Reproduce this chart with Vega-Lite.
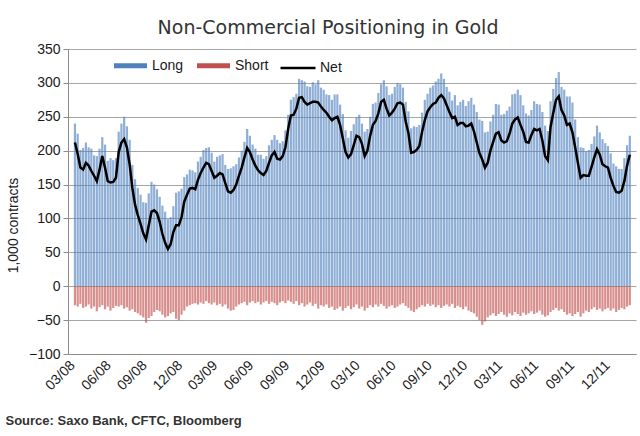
{
  "$schema": "https://vega.github.io/schema/vega-lite/v6.json",
  "width": 568,
  "height": 305,
  "autosize": {"type": "none"},
  "padding": {"left": 68, "top": 49, "right": 4, "bottom": 82},
  "background": "white",
  "title": {
    "text": "Non-Commercial Positioning in Gold",
    "font": "DejaVu Sans",
    "fontSize": 19,
    "fontWeight": "normal",
    "color": "#333333",
    "anchor": "middle",
    "baseline": "alphabetic",
    "offset": 16,
    "dx": -24,
    "dy": 27
  },
  "data": {
    "values": [
      {"date": "2008-02-26", "Long": 240, "Short": -28, "Net": 212},
      {"date": "2008-03-04", "Long": 225, "Short": -30, "Net": 195},
      {"date": "2008-03-11", "Long": 201, "Short": -26, "Net": 175},
      {"date": "2008-03-18", "Long": 204, "Short": -32, "Net": 172},
      {"date": "2008-03-25", "Long": 212, "Short": -30, "Net": 182},
      {"date": "2008-04-01", "Long": 205, "Short": -27, "Net": 178},
      {"date": "2008-04-08", "Long": 203, "Short": -33, "Net": 170},
      {"date": "2008-04-15", "Long": 193, "Short": -30, "Net": 163},
      {"date": "2008-04-22", "Long": 192, "Short": -37, "Net": 155},
      {"date": "2008-04-29", "Long": 203, "Short": -31, "Net": 172},
      {"date": "2008-05-06", "Long": 220, "Short": -28, "Net": 192},
      {"date": "2008-05-13", "Long": 209, "Short": -34, "Net": 175},
      {"date": "2008-05-20", "Long": 185, "Short": -30, "Net": 155},
      {"date": "2008-05-27", "Long": 189, "Short": -36, "Net": 153},
      {"date": "2008-06-03", "Long": 186, "Short": -32, "Net": 154},
      {"date": "2008-06-10", "Long": 189, "Short": -29, "Net": 160},
      {"date": "2008-06-17", "Long": 228, "Short": -30, "Net": 198},
      {"date": "2008-06-24", "Long": 240, "Short": -28, "Net": 212},
      {"date": "2008-07-01", "Long": 250, "Short": -33, "Net": 217},
      {"date": "2008-07-08", "Long": 236, "Short": -31, "Net": 205},
      {"date": "2008-07-15", "Long": 216, "Short": -36, "Net": 180},
      {"date": "2008-07-22", "Long": 179, "Short": -34, "Net": 145},
      {"date": "2008-07-29", "Long": 158, "Short": -38, "Net": 120},
      {"date": "2008-08-05", "Long": 145, "Short": -40, "Net": 105},
      {"date": "2008-08-12", "Long": 135, "Short": -43, "Net": 92},
      {"date": "2008-08-19", "Long": 124, "Short": -46, "Net": 78},
      {"date": "2008-08-26", "Long": 123, "Short": -54, "Net": 69},
      {"date": "2008-09-02", "Long": 137, "Short": -47, "Net": 90},
      {"date": "2008-09-09", "Long": 154, "Short": -44, "Net": 110},
      {"date": "2008-09-16", "Long": 150, "Short": -38, "Net": 112},
      {"date": "2008-09-23", "Long": 143, "Short": -35, "Net": 108},
      {"date": "2008-09-30", "Long": 132, "Short": -37, "Net": 95},
      {"date": "2008-10-07", "Long": 119, "Short": -42, "Net": 77},
      {"date": "2008-10-14", "Long": 110, "Short": -46, "Net": 64},
      {"date": "2008-10-21", "Long": 99, "Short": -44, "Net": 55},
      {"date": "2008-10-28", "Long": 102, "Short": -40, "Net": 62},
      {"date": "2008-11-04", "Long": 118, "Short": -38, "Net": 80},
      {"date": "2008-11-11", "Long": 138, "Short": -48, "Net": 90},
      {"date": "2008-11-18", "Long": 140, "Short": -50, "Net": 90},
      {"date": "2008-11-25", "Long": 144, "Short": -42, "Net": 102},
      {"date": "2008-12-02", "Long": 161, "Short": -36, "Net": 125},
      {"date": "2008-12-09", "Long": 165, "Short": -30, "Net": 135},
      {"date": "2008-12-16", "Long": 172, "Short": -28, "Net": 144},
      {"date": "2008-12-23", "Long": 171, "Short": -26, "Net": 145},
      {"date": "2008-12-30", "Long": 168, "Short": -25, "Net": 143},
      {"date": "2009-01-06", "Long": 184, "Short": -27, "Net": 157},
      {"date": "2009-01-13", "Long": 191, "Short": -24, "Net": 167},
      {"date": "2009-01-20", "Long": 201, "Short": -26, "Net": 175},
      {"date": "2009-01-27", "Long": 204, "Short": -22, "Net": 182},
      {"date": "2009-02-03", "Long": 205, "Short": -25, "Net": 180},
      {"date": "2009-02-10", "Long": 197, "Short": -27, "Net": 170},
      {"date": "2009-02-17", "Long": 184, "Short": -24, "Net": 160},
      {"date": "2009-02-24", "Long": 191, "Short": -28, "Net": 163},
      {"date": "2009-03-03", "Long": 193, "Short": -26, "Net": 167},
      {"date": "2009-03-10", "Long": 195, "Short": -30, "Net": 165},
      {"date": "2009-03-17", "Long": 179, "Short": -27, "Net": 152},
      {"date": "2009-03-24", "Long": 173, "Short": -33, "Net": 140},
      {"date": "2009-03-31", "Long": 174, "Short": -36, "Net": 138},
      {"date": "2009-04-07", "Long": 177, "Short": -35, "Net": 142},
      {"date": "2009-04-14", "Long": 180, "Short": -30, "Net": 150},
      {"date": "2009-04-21", "Long": 190, "Short": -27, "Net": 163},
      {"date": "2009-04-28", "Long": 200, "Short": -25, "Net": 175},
      {"date": "2009-05-05", "Long": 213, "Short": -23, "Net": 190},
      {"date": "2009-05-12", "Long": 232, "Short": -28, "Net": 204},
      {"date": "2009-05-19", "Long": 222, "Short": -24, "Net": 198},
      {"date": "2009-05-26", "Long": 209, "Short": -22, "Net": 187},
      {"date": "2009-06-02", "Long": 203, "Short": -25, "Net": 178},
      {"date": "2009-06-09", "Long": 194, "Short": -23, "Net": 171},
      {"date": "2009-06-16", "Long": 194, "Short": -27, "Net": 167},
      {"date": "2009-06-23", "Long": 188, "Short": -24, "Net": 164},
      {"date": "2009-06-30", "Long": 192, "Short": -22, "Net": 170},
      {"date": "2009-07-07", "Long": 208, "Short": -26, "Net": 182},
      {"date": "2009-07-14", "Long": 216, "Short": -23, "Net": 193},
      {"date": "2009-07-21", "Long": 223, "Short": -25, "Net": 198},
      {"date": "2009-07-28", "Long": 216, "Short": -28, "Net": 188},
      {"date": "2009-08-04", "Long": 211, "Short": -24, "Net": 187},
      {"date": "2009-08-11", "Long": 214, "Short": -22, "Net": 192},
      {"date": "2009-08-18", "Long": 230, "Short": -25, "Net": 205},
      {"date": "2009-08-25", "Long": 253, "Short": -21, "Net": 232},
      {"date": "2009-09-01", "Long": 275, "Short": -23, "Net": 252},
      {"date": "2009-09-08", "Long": 279, "Short": -26, "Net": 253},
      {"date": "2009-09-15", "Long": 284, "Short": -22, "Net": 262},
      {"date": "2009-09-22", "Long": 306, "Short": -28, "Net": 278},
      {"date": "2009-09-29", "Long": 304, "Short": -25, "Net": 279},
      {"date": "2009-10-06", "Long": 302, "Short": -30, "Net": 272},
      {"date": "2009-10-13", "Long": 295, "Short": -27, "Net": 268},
      {"date": "2009-10-20", "Long": 294, "Short": -24, "Net": 270},
      {"date": "2009-10-27", "Long": 301, "Short": -29, "Net": 272},
      {"date": "2009-11-03", "Long": 298, "Short": -26, "Net": 272},
      {"date": "2009-11-10", "Long": 304, "Short": -33, "Net": 271},
      {"date": "2009-11-17", "Long": 293, "Short": -28, "Net": 265},
      {"date": "2009-11-24", "Long": 290, "Short": -30, "Net": 260},
      {"date": "2009-12-01", "Long": 283, "Short": -27, "Net": 256},
      {"date": "2009-12-08", "Long": 282, "Short": -32, "Net": 250},
      {"date": "2009-12-15", "Long": 275, "Short": -30, "Net": 245},
      {"date": "2009-12-22", "Long": 283, "Short": -35, "Net": 248},
      {"date": "2009-12-29", "Long": 283, "Short": -33, "Net": 250},
      {"date": "2010-01-05", "Long": 268, "Short": -30, "Net": 238},
      {"date": "2010-01-12", "Long": 254, "Short": -36, "Net": 218},
      {"date": "2010-01-19", "Long": 230, "Short": -32, "Net": 198},
      {"date": "2010-01-26", "Long": 219, "Short": -29, "Net": 190},
      {"date": "2010-02-02", "Long": 229, "Short": -34, "Net": 195},
      {"date": "2010-02-09", "Long": 239, "Short": -31, "Net": 208},
      {"date": "2010-02-16", "Long": 249, "Short": -27, "Net": 222},
      {"date": "2010-02-23", "Long": 253, "Short": -33, "Net": 220},
      {"date": "2010-03-02", "Long": 240, "Short": -30, "Net": 210},
      {"date": "2010-03-09", "Long": 228, "Short": -36, "Net": 192},
      {"date": "2010-03-16", "Long": 232, "Short": -32, "Net": 200},
      {"date": "2010-03-23", "Long": 250, "Short": -28, "Net": 222},
      {"date": "2010-03-30", "Long": 269, "Short": -31, "Net": 238},
      {"date": "2010-04-06", "Long": 271, "Short": -27, "Net": 244},
      {"date": "2010-04-13", "Long": 285, "Short": -30, "Net": 255},
      {"date": "2010-04-20", "Long": 298, "Short": -26, "Net": 272},
      {"date": "2010-04-27", "Long": 304, "Short": -29, "Net": 275},
      {"date": "2010-05-04", "Long": 295, "Short": -33, "Net": 262},
      {"date": "2010-05-11", "Long": 282, "Short": -30, "Net": 252},
      {"date": "2010-05-18", "Long": 284, "Short": -28, "Net": 256},
      {"date": "2010-05-25", "Long": 294, "Short": -32, "Net": 262},
      {"date": "2010-06-01", "Long": 300, "Short": -30, "Net": 270},
      {"date": "2010-06-08", "Long": 298, "Short": -27, "Net": 271},
      {"date": "2010-06-15", "Long": 293, "Short": -25, "Net": 268},
      {"date": "2010-06-22", "Long": 272, "Short": -29, "Net": 243},
      {"date": "2010-06-29", "Long": 258, "Short": -32, "Net": 226},
      {"date": "2010-07-06", "Long": 233, "Short": -36, "Net": 197},
      {"date": "2010-07-13", "Long": 236, "Short": -38, "Net": 198},
      {"date": "2010-07-20", "Long": 235, "Short": -34, "Net": 201},
      {"date": "2010-07-27", "Long": 238, "Short": -31, "Net": 207},
      {"date": "2010-08-03", "Long": 256, "Short": -28, "Net": 228},
      {"date": "2010-08-10", "Long": 275, "Short": -30, "Net": 245},
      {"date": "2010-08-17", "Long": 284, "Short": -26, "Net": 258},
      {"date": "2010-08-24", "Long": 293, "Short": -29, "Net": 264},
      {"date": "2010-08-31", "Long": 296, "Short": -27, "Net": 269},
      {"date": "2010-09-07", "Long": 302, "Short": -31, "Net": 271},
      {"date": "2010-09-14", "Long": 306, "Short": -28, "Net": 278},
      {"date": "2010-09-21", "Long": 314, "Short": -32, "Net": 282},
      {"date": "2010-09-28", "Long": 306, "Short": -29, "Net": 277},
      {"date": "2010-10-05", "Long": 294, "Short": -27, "Net": 267},
      {"date": "2010-10-12", "Long": 287, "Short": -30, "Net": 257},
      {"date": "2010-10-19", "Long": 274, "Short": -26, "Net": 248},
      {"date": "2010-10-26", "Long": 282, "Short": -32, "Net": 250},
      {"date": "2010-11-02", "Long": 267, "Short": -29, "Net": 238},
      {"date": "2010-11-09", "Long": 272, "Short": -31, "Net": 241},
      {"date": "2010-11-16", "Long": 275, "Short": -34, "Net": 241},
      {"date": "2010-11-23", "Long": 266, "Short": -30, "Net": 236},
      {"date": "2010-11-30", "Long": 273, "Short": -36, "Net": 237},
      {"date": "2010-12-07", "Long": 278, "Short": -38, "Net": 240},
      {"date": "2010-12-14", "Long": 268, "Short": -40, "Net": 228},
      {"date": "2010-12-21", "Long": 257, "Short": -45, "Net": 212},
      {"date": "2010-12-28", "Long": 246, "Short": -50, "Net": 196},
      {"date": "2011-01-04", "Long": 244, "Short": -57, "Net": 187},
      {"date": "2011-01-11", "Long": 227, "Short": -52, "Net": 175},
      {"date": "2011-01-18", "Long": 228, "Short": -46, "Net": 182},
      {"date": "2011-01-25", "Long": 243, "Short": -43, "Net": 200},
      {"date": "2011-02-01", "Long": 253, "Short": -40, "Net": 213},
      {"date": "2011-02-08", "Long": 269, "Short": -44, "Net": 225},
      {"date": "2011-02-15", "Long": 268, "Short": -41, "Net": 227},
      {"date": "2011-02-22", "Long": 253, "Short": -38, "Net": 215},
      {"date": "2011-03-01", "Long": 254, "Short": -42, "Net": 212},
      {"date": "2011-03-08", "Long": 259, "Short": -45, "Net": 214},
      {"date": "2011-03-15", "Long": 265, "Short": -40, "Net": 225},
      {"date": "2011-03-22", "Long": 283, "Short": -43, "Net": 240},
      {"date": "2011-03-29", "Long": 284, "Short": -38, "Net": 246},
      {"date": "2011-04-05", "Long": 290, "Short": -41, "Net": 249},
      {"date": "2011-04-12", "Long": 282, "Short": -44, "Net": 238},
      {"date": "2011-04-19", "Long": 267, "Short": -39, "Net": 228},
      {"date": "2011-04-26", "Long": 255, "Short": -42, "Net": 213},
      {"date": "2011-05-03", "Long": 252, "Short": -40, "Net": 212},
      {"date": "2011-05-10", "Long": 260, "Short": -37, "Net": 223},
      {"date": "2011-05-17", "Long": 273, "Short": -41, "Net": 232},
      {"date": "2011-05-24", "Long": 269, "Short": -39, "Net": 230},
      {"date": "2011-05-31", "Long": 268, "Short": -36, "Net": 232},
      {"date": "2011-06-07", "Long": 257, "Short": -42, "Net": 215},
      {"date": "2011-06-14", "Long": 237, "Short": -45, "Net": 192},
      {"date": "2011-06-21", "Long": 229, "Short": -43, "Net": 186},
      {"date": "2011-06-28", "Long": 273, "Short": -38, "Net": 235},
      {"date": "2011-07-05", "Long": 291, "Short": -35, "Net": 256},
      {"date": "2011-07-12", "Long": 307, "Short": -32, "Net": 275},
      {"date": "2011-07-19", "Long": 316, "Short": -36, "Net": 280},
      {"date": "2011-07-26", "Long": 294, "Short": -34, "Net": 260},
      {"date": "2011-08-02", "Long": 290, "Short": -38, "Net": 252},
      {"date": "2011-08-09", "Long": 280, "Short": -42, "Net": 238},
      {"date": "2011-08-16", "Long": 280, "Short": -40, "Net": 240},
      {"date": "2011-08-23", "Long": 271, "Short": -44, "Net": 227},
      {"date": "2011-08-30", "Long": 246, "Short": -41, "Net": 205},
      {"date": "2011-09-06", "Long": 220, "Short": -38, "Net": 182},
      {"date": "2011-09-13", "Long": 205, "Short": -45, "Net": 160},
      {"date": "2011-09-20", "Long": 204, "Short": -40, "Net": 164},
      {"date": "2011-09-27", "Long": 199, "Short": -36, "Net": 163},
      {"date": "2011-10-04", "Long": 201, "Short": -38, "Net": 163},
      {"date": "2011-10-11", "Long": 210, "Short": -34, "Net": 176},
      {"date": "2011-10-18", "Long": 221, "Short": -31, "Net": 190},
      {"date": "2011-10-25", "Long": 237, "Short": -35, "Net": 202},
      {"date": "2011-11-01", "Long": 227, "Short": -33, "Net": 194},
      {"date": "2011-11-08", "Long": 217, "Short": -37, "Net": 180},
      {"date": "2011-11-15", "Long": 211, "Short": -34, "Net": 177},
      {"date": "2011-11-22", "Long": 207, "Short": -32, "Net": 175},
      {"date": "2011-11-29", "Long": 196, "Short": -36, "Net": 160},
      {"date": "2011-12-06", "Long": 181, "Short": -33, "Net": 148},
      {"date": "2011-12-13", "Long": 177, "Short": -38, "Net": 139},
      {"date": "2011-12-20", "Long": 173, "Short": -35, "Net": 138},
      {"date": "2011-12-27", "Long": 173, "Short": -32, "Net": 141},
      {"date": "2012-01-03", "Long": 189, "Short": -34, "Net": 155},
      {"date": "2012-01-10", "Long": 208, "Short": -30, "Net": 178},
      {"date": "2012-01-17", "Long": 222, "Short": -28, "Net": 194}
    ]
  },
  "layer": [
    {
      "transform": [{"fold": ["Long", "Short"], "as": ["series", "value"]}],
      "mark": {"type": "bar", "width": 2.2, "fillOpacity": 0.64},
      "encoding": {
        "x": {
          "field": "date",
          "type": "temporal",
          "scale": {
            "type": "utc",
            "domain": [
              {"year": 2008, "month": 2, "date": 21, "utc": true},
              {"year": 2012, "month": 1, "date": 20, "utc": true}
            ]
          },
          "axis": {
            "format": "%m/%y",
            "labelAngle": -45,
            "labelOverlap": false,
            "labelOffset": -9,
            "ticks": false,
            "grid": false,
            "labelPadding": 4,
            "values": [
              {"year": 2008, "month": 3, "date": 1, "utc": true},
              {"year": 2008, "month": 6, "date": 1, "utc": true},
              {"year": 2008, "month": 9, "date": 1, "utc": true},
              {"year": 2008, "month": 12, "date": 1, "utc": true},
              {"year": 2009, "month": 3, "date": 1, "utc": true},
              {"year": 2009, "month": 6, "date": 1, "utc": true},
              {"year": 2009, "month": 9, "date": 1, "utc": true},
              {"year": 2009, "month": 12, "date": 1, "utc": true},
              {"year": 2010, "month": 3, "date": 1, "utc": true},
              {"year": 2010, "month": 6, "date": 1, "utc": true},
              {"year": 2010, "month": 9, "date": 1, "utc": true},
              {"year": 2010, "month": 12, "date": 1, "utc": true},
              {"year": 2011, "month": 3, "date": 1, "utc": true},
              {"year": 2011, "month": 6, "date": 1, "utc": true},
              {"year": 2011, "month": 9, "date": 1, "utc": true},
              {"year": 2011, "month": 12, "date": 1, "utc": true}
            ],
            "title": "Source: Saxo Bank, CFTC, Bloomberg",
            "titleFont": "Liberation Sans",
            "titleFontSize": 13,
            "titleFontWeight": "bold",
            "titleColor": "#333333",
            "titleAnchor": "start",
            "titleAlign": "left",
            "titleBaseline": "top",
            "titleX": -63,
            "titleY": 60
          }
        },
        "y": {
          "field": "value",
          "type": "quantitative",
          "title": "1,000 contracts",
          "scale": {"domain": [-100, 350], "nice": false},
          "axis": {
            "values": [-100, -50, 0, 50, 100, 150, 200, 250, 300, 350],
            "labelOverlap": false,
            "grid": true,
            "tickSize": 5,
            "labelPadding": 3,
            "titlePadding": 8,
            "titleAlign": "center",
            "titleY": 176
          }
        },
        "fill": {
          "field": "series",
          "type": "nominal",
          "scale": {"domain": ["Long", "Short"], "range": ["#4f81bd", "#c0504d"]},
          "legend": {
            "orient": "none",
            "legendX": 46,
            "legendY": 0,
            "direction": "horizontal",
            "title": null,
            "symbolType": "M-1,-0.15L1,-0.15L1,0.15L-1,0.15Z",
            "symbolSize": 1089,
            "symbolStrokeWidth": 0,
            "symbolOpacity": 1,
            "labelOffset": 5,
            "columnPadding": 13,
            "padding": 0
          }
        }
      }
    },
    {
      "mark": {"type": "line", "strokeWidth": 2.5},
      "encoding": {
        "x": {
          "field": "date",
          "type": "temporal",
          "axis": {
            "format": "%m/%y",
            "labelAngle": -45,
            "labelOverlap": false,
            "labelOffset": -9,
            "ticks": false,
            "grid": false,
            "labelPadding": 4,
            "values": [
              {"year": 2008, "month": 3, "date": 1, "utc": true},
              {"year": 2008, "month": 6, "date": 1, "utc": true},
              {"year": 2008, "month": 9, "date": 1, "utc": true},
              {"year": 2008, "month": 12, "date": 1, "utc": true},
              {"year": 2009, "month": 3, "date": 1, "utc": true},
              {"year": 2009, "month": 6, "date": 1, "utc": true},
              {"year": 2009, "month": 9, "date": 1, "utc": true},
              {"year": 2009, "month": 12, "date": 1, "utc": true},
              {"year": 2010, "month": 3, "date": 1, "utc": true},
              {"year": 2010, "month": 6, "date": 1, "utc": true},
              {"year": 2010, "month": 9, "date": 1, "utc": true},
              {"year": 2010, "month": 12, "date": 1, "utc": true},
              {"year": 2011, "month": 3, "date": 1, "utc": true},
              {"year": 2011, "month": 6, "date": 1, "utc": true},
              {"year": 2011, "month": 9, "date": 1, "utc": true},
              {"year": 2011, "month": 12, "date": 1, "utc": true}
            ],
            "title": "Source: Saxo Bank, CFTC, Bloomberg",
            "titleFont": "Liberation Sans",
            "titleFontSize": 13,
            "titleFontWeight": "bold",
            "titleColor": "#333333",
            "titleAnchor": "start",
            "titleAlign": "left",
            "titleBaseline": "top",
            "titleX": -63,
            "titleY": 60
          }
        },
        "y": {
          "field": "Net",
          "type": "quantitative",
          "title": "1,000 contracts",
          "axis": {
            "values": [-100, -50, 0, 50, 100, 150, 200, 250, 300, 350],
            "labelOverlap": false,
            "grid": true,
            "tickSize": 5,
            "labelPadding": 3,
            "titlePadding": 8,
            "titleAlign": "center",
            "titleY": 176
          }
        },
        "stroke": {
          "datum": "Net",
          "type": "nominal",
          "scale": {"domain": ["Net"], "range": ["#000000"]},
          "legend": {
            "orient": "none",
            "legendX": 211,
            "legendY": 0,
            "direction": "horizontal",
            "title": null,
            "symbolType": "stroke",
            "symbolSize": 1225,
            "symbolStrokeWidth": 2.5,
            "labelOffset": 3,
            "padding": 0
          }
        }
      }
    }
  ],
  "config": {
    "view": {"stroke": null},
    "axis": {
      "labelFont": "Liberation Sans",
      "labelFontSize": 14,
      "labelColor": "#1a1a1a",
      "titleFont": "Liberation Sans",
      "titleFontSize": 14,
      "titleFontWeight": "normal",
      "titleColor": "#1a1a1a",
      "domainColor": "#8c8c8c",
      "tickColor": "#8c8c8c",
      "gridColor": "#a6a6a6",
      "gridWidth": 1.2
    },
    "legend": {
      "labelFont": "Liberation Sans",
      "labelFontSize": 14,
      "labelColor": "#1a1a1a"
    }
  }
}
